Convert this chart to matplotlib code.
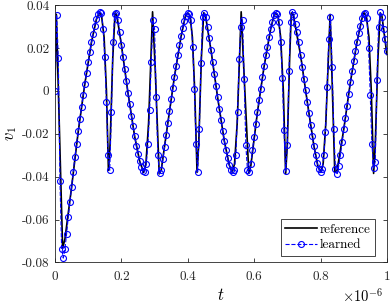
import matplotlib
matplotlib.use('Agg')
import matplotlib.pyplot as plt
import numpy as np

# reference solution, vertices (t in units of 1e-6 s)
t_ref = [0.000, 0.004, 0.023, 0.030, 0.050, 0.070, 0.090, 0.110, 0.125, 0.134,
         0.140, 0.148, 0.155, 0.161, 0.166, 0.174, 0.181, 0.186, 0.200, 0.220,
         0.240, 0.255, 0.267, 0.274, 0.282, 0.294, 0.302, 0.314, 0.320, 0.340,
         0.360, 0.380, 0.393, 0.400, 0.407, 0.414, 0.421, 0.428, 0.433, 0.441,
         0.448, 0.453, 0.470, 0.490, 0.510, 0.525, 0.534, 0.541, 0.549, 0.561,
         0.569, 0.584, 0.590, 0.610, 0.630, 0.650, 0.660, 0.665, 0.672, 0.680,
         0.688, 0.695, 0.700, 0.707, 0.712, 0.718, 0.740, 0.760, 0.780, 0.792,
         0.801, 0.808, 0.816, 0.829, 0.834, 0.843, 0.850, 0.870, 0.890, 0.910,
         0.925, 0.931, 0.938, 0.946, 0.953, 0.960, 0.965, 0.973, 0.980, 0.985,
         1.000]
v_ref = [0.0000, 0.0357, -0.0735, -0.0690, -0.0450, -0.0190, 0.0034, 0.0228, 0.0335, 0.0364,
         0.0355, 0.0250, 0.0000, -0.0370, -0.0250, 0.0150, 0.0364, 0.0355, 0.0215, -0.0010,
         -0.0212, -0.0327, -0.0380, -0.0340, -0.0150, 0.0369, 0.0100, -0.0387, -0.0370, -0.0150,
         0.0067, 0.0255, 0.0350, 0.0364, 0.0350, 0.0250, 0.0000, -0.0380, -0.0250, 0.0150,
         0.0364, 0.0355, 0.0190, -0.0030, -0.0232, -0.0345, -0.0380, -0.0340, -0.0150, 0.0369,
         0.0100, -0.0385, -0.0350, -0.0099, 0.0114, 0.0290, 0.0352, 0.0364, 0.0350, 0.0250,
         0.0000, -0.0385, -0.0250, 0.0150, 0.0364, 0.0355, 0.0166, -0.0050, -0.0255, -0.0350,
         -0.0380, -0.0340, -0.0150, 0.0357, 0.0100, -0.0380, -0.0370, -0.0180, 0.0040, 0.0228,
         0.0338, 0.0364, 0.0350, 0.0250, 0.0000, -0.0385, -0.0250, 0.0150, 0.0364, 0.0350,
         0.0170]

# learned model, sampled every 0.005e-6 s
dt_learned = 0.005
v_learned = [
    0.0000, 0.0355, 0.0152, -0.0420, -0.0736, -0.0780, -0.0736, -0.0666, -0.0588, -0.0518,
    -0.0448, -0.0378, -0.0308, -0.0246, -0.0187, -0.0130, -0.0075, -0.0018, 0.0034, 0.0083,
    0.0134, 0.0181, 0.0228, 0.0267, 0.0305, 0.0337, 0.0357, 0.0367, 0.0363, 0.0290,
    0.0158, -0.0052, -0.0300, -0.0370, -0.0099, 0.0228, 0.0360, 0.0362, 0.0330, 0.0275,
    0.0215, 0.0158, 0.0100, 0.0045, -0.0010, -0.0063, -0.0115, -0.0165, -0.0212, -0.0255,
    -0.0293, -0.0327, -0.0355, -0.0373, -0.0378, -0.0340, -0.0250, -0.0091, 0.0134, 0.0332,
    0.0290, -0.0029, -0.0300, -0.0385, -0.0370, -0.0320, -0.0262, -0.0205, -0.0150, -0.0095,
    -0.0040, 0.0015, 0.0067, 0.0118, 0.0167, 0.0212, 0.0255, 0.0293, 0.0325, 0.0350,
    0.0364, 0.0358, 0.0330, 0.0204, 0.0010, -0.0246, -0.0378, -0.0176, 0.0130, 0.0345,
    0.0364, 0.0345, 0.0300, 0.0245, 0.0190, 0.0135, 0.0080, 0.0025, -0.0030, -0.0083,
    -0.0135, -0.0185, -0.0232, -0.0275, -0.0313, -0.0345, -0.0368, -0.0378, -0.0370, -0.0300,
    -0.0100, 0.0150, 0.0297, 0.0332, 0.0057, -0.0254, -0.0370, -0.0378, -0.0340, -0.0277,
    -0.0215, -0.0153, -0.0099, -0.0044, 0.0010, 0.0064, 0.0114, 0.0166, 0.0207, 0.0251,
    0.0290, 0.0321, 0.0352, 0.0363, 0.0360, 0.0321, 0.0228, 0.0062, -0.0184, -0.0374,
    -0.0254, 0.0092, 0.0321, 0.0370, 0.0352, 0.0313, 0.0274, 0.0228, 0.0166, 0.0111,
    0.0057, 0.0005, -0.0050, -0.0105, -0.0160, -0.0210, -0.0255, -0.0298, -0.0335, -0.0365,
    -0.0380, -0.0362, -0.0300, -0.0190, 0.0020, 0.0240, 0.0345, 0.0110, -0.0180, -0.0365,
    -0.0386, -0.0350, -0.0300, -0.0240, -0.0180, -0.0125, -0.0070, -0.0015, 0.0040, 0.0093,
    0.0140, 0.0185, 0.0228, 0.0268, 0.0305, 0.0338, 0.0360, 0.0362, 0.0340, 0.0200,
    -0.0020, -0.0250, -0.0360, -0.0330, 0.0050, 0.0300, 0.0367, 0.0345, 0.0290, 0.0240,
    0.0186]
t_learned = dt_learned * np.arange(len(v_learned))

x_ticks = [0, 0.2, 0.4, 0.6, 0.8, 1]
x_labels = ['0', '0.2', '0.4', '0.6', '0.8', '1']
y_ticks = [-0.08, -0.06, -0.04, -0.02, 0, 0.02, 0.04]
y_labels = ['-0.08', '-0.06', '-0.04', '-0.02', '0', '0.02', '0.04']

plt.rcParams['font.family'] = 'cmr10'
plt.rcParams['mathtext.fontset'] = 'cm'
plt.rcParams['axes.unicode_minus'] = False

fig = plt.figure(figsize=(3.9, 3.03), dpi=100)
ax = fig.add_axes([0.141, 0.134, 0.851, 0.849])

ax.plot(t_ref, v_ref, color='k', linewidth=1.2, label='reference')
ax.plot(t_learned, v_learned, color='b', linestyle='--', linewidth=0.8,
        marker='o', markersize=4.3, markerfacecolor='none', markeredgewidth=0.8,
        label='learned')

ax.set_xlim(0, 1)
ax.set_ylim(-0.08, 0.04)
ax.set_xticks(x_ticks)
ax.set_xticklabels(x_labels)
ax.set_yticks(y_ticks)
ax.set_yticklabels(y_labels)
ax.tick_params(direction='in', top=True, right=True, length=3, width=0.6,
               labelsize=9.5, colors='#262626', pad=4)
ax.tick_params(axis='x', pad=6)
for s in ax.spines.values():
    s.set_color('#262626')
    s.set_linewidth(0.6)

ax.set_xlabel('$t$', fontsize=12)
ax.xaxis.set_label_coords(0.5, -0.095)
ax.set_ylabel('$v_1$', fontsize=12, labelpad=2)
ax.text(0.988, -0.093, r'$\times10^{-6}$', transform=ax.transAxes,
        ha='right', va='top', fontsize=10.5)

leg = ax.legend(loc='lower right', bbox_to_anchor=(375 / 390, 47 / 303),
                bbox_transform=fig.transFigure, fontsize=9.5,
                fancybox=False, framealpha=1, edgecolor='#262626',
                handlelength=2.4, borderpad=0.35, labelspacing=0.25,
                handletextpad=0.2, borderaxespad=0)
leg.get_frame().set_linewidth(0.6)

fig.savefig('out.png', dpi=100)
